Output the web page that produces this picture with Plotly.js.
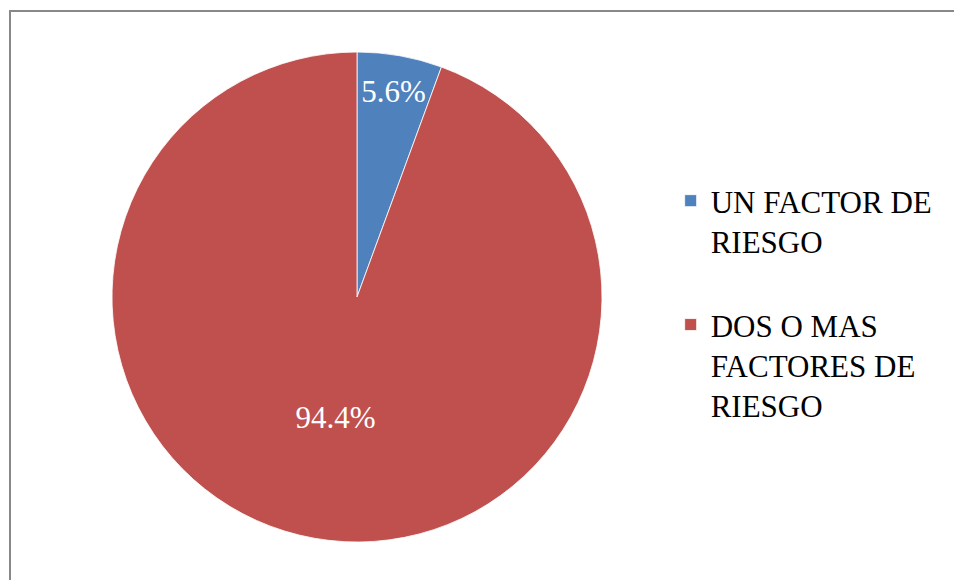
<!DOCTYPE html>
<html>
<head>
<meta charset="utf-8">
<script src="https://cdn.plot.ly/plotly-3.0.1.min.js"></script>
<style>
html,body{margin:0;padding:0;background:#fff;}
#wrap{position:relative;width:954px;height:580px;overflow:hidden;}
#chart{width:954px;height:580px;}
#frame{position:absolute;left:9px;top:10px;width:960px;height:600px;border:2px solid #888;box-sizing:border-box;pointer-events:none;}
</style>
</head>
<body>
<div id="wrap"><div id="chart"></div><div id="frame"></div></div>
<script>
const categories = ["UN FACTOR DE<br>RIESGO<br> ", "DOS O MAS<br>FACTORES DE<br>RIESGO"];
const values = [5.6, 94.4];
const colors = ["#4F81BD", "#C0504D"];

const serif = "Liberation Serif, Times New Roman, serif";

const trace = {
  type: "pie",
  labels: categories,
  values: values,
  sort: false,
  direction: "clockwise",
  rotation: 0,
  marker: {colors: colors, line: {color: "#ffffff", width: 0.8}},
  texttemplate: "%{percent:.1%}",
  textposition: "inside",
  insidetextorientation: "horizontal",
  textfont: {family: serif, size: 31, color: "#ffffff"},
  hoverinfo: "label+percent",
  domain: {x: [112/954, 602/954], y: [38/580, 528/580]}
};

const layout = {
  width: 954, height: 580,
  margin: {l: 0, r: 0, t: 0, b: 0},
  paper_bgcolor: "#ffffff",
  font: {family: serif, size: 31, color: "#000000"},
  showlegend: true,
  uniformtext: {mode: "show", minsize: 31},
  legend: {
    x: 0.703, xanchor: "left", y: 0.70, yanchor: "top",
    font: {family: serif, size: 31, color: "#000000"},
    valign: "top",
    itemwidth: 30,
    bgcolor: "rgba(0,0,0,0)"
  }
};

Plotly.newPlot("chart", [trace], layout, {displayModeBar: false, staticPlot: true});
</script>
</body>
</html>
